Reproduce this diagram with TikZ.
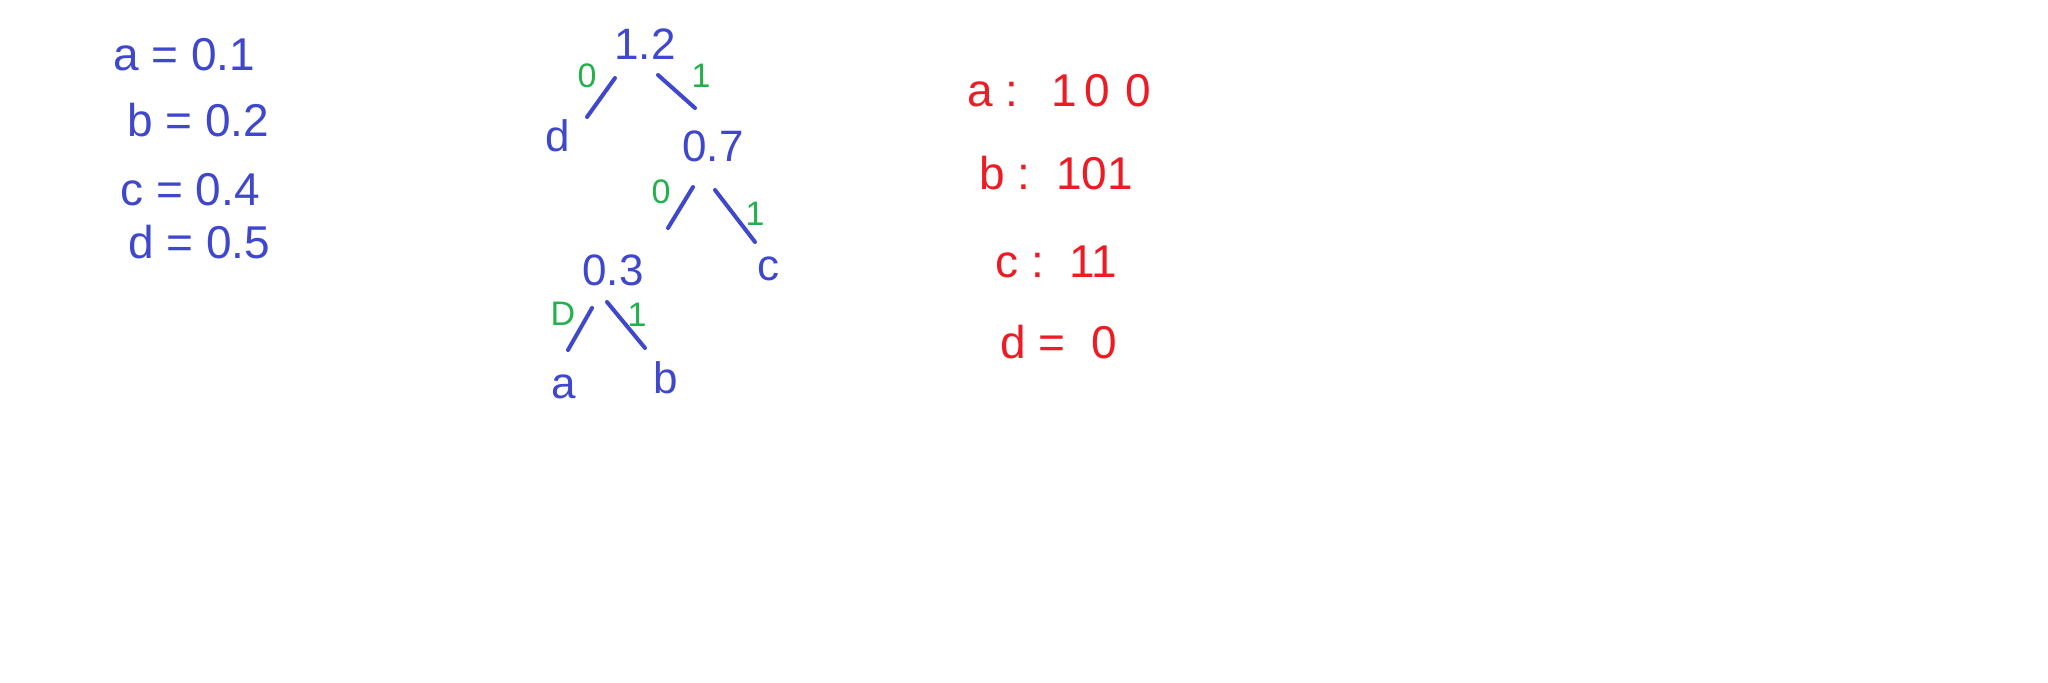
\documentclass[tikz,border=0pt]{standalone}
\usepackage{fontspec}
\setmainfont{Liberation Sans}
\definecolor{pblue}{HTML}{3F48CC}
\definecolor{pred}{HTML}{ED1C24}
\definecolor{pgreen}{HTML}{22B14C}
\begin{document}
\begin{tikzpicture}[x=0.5pt,y=-0.5pt,
  listtxt/.style={text=pblue,font=\fontsize{23}{27}\selectfont,inner sep=0pt,anchor=west},
  codetxt/.style={text=pred,font=\fontsize{23}{27}\selectfont,inner sep=0pt,anchor=west},
  treetxt/.style={text=pblue,font=\fontsize{22}{26}\selectfont,inner sep=0pt},
  bittxt/.style={text=pgreen,font=\fontsize{17}{20}\selectfont,inner sep=0pt},
  edge/.style={draw=pblue,line width=2pt,line cap=round}]
\fill[white] (0,0) rectangle (2048,682);
\useasboundingbox (0,0) rectangle (2048,682);
% probability list
\node[listtxt] (pa) at (113,55) {a = 0.1};
\node[listtxt] (pb) at (127,120) {b = 0.2};
\node[listtxt] (pc) at (120,190) {c = 0.4};
\node[listtxt] (pd) at (128,242) {d = 0.5};
% tree nodes
\node[treetxt] (top) at (645,44) {1.2};
\node[treetxt] (d) at (558,136) {d};
\node[treetxt] (n07) at (713,146) {0.7};
\node[treetxt] (n03) at (613,270) {0.3};
\node[treetxt] (c) at (768,269) {c};
\node[treetxt] (a) at (564,387) {a};
\node[treetxt] (b) at (666,378) {b};
% edges
\draw[edge] ([shift={(-30,34)}]top.center) -- ([shift={(29,-19)}]d.center);
\draw[edge] ([shift={(13,31)}]top.center) -- ([shift={(-18,-38)}]n07.center);
\draw[edge] ([shift={(-20,41)}]n07.center) -- ([shift={(55,-42)}]n03.center);
\draw[edge] ([shift={(2,44)}]n07.center) -- ([shift={(-13,-27)}]c.center);
\draw[edge] ([shift={(-21,38)}]n03.center) -- ([shift={(4,-37)}]a.center);
\draw[edge] ([shift={(-6,32)}]n03.center) -- ([shift={(-21,-30)}]b.center);
% bit labels
\node[bittxt] (g0a) at (587,76) {0};
\node[bittxt] (g1a) at (701,76) {1};
\node[bittxt] (g0b) at (661,192) {0};
\node[bittxt] (g1b) at (755,214) {1};
\node[bittxt] (g0c) at (563,314) {D};
\node[bittxt] (g1c) at (637,315) {1};
% codes
\node[codetxt] (ca) at (967,91) {a :\ \ \,1\,0\,\,0};
\node[codetxt] (cb) at (979,173) {b :\ \ 101};
\node[codetxt] (cc) at (995,262) {c :\ \ 11};
\node[codetxt] (cd) at (1000,342) {d =\ \ 0};
\end{tikzpicture}
\end{document}
